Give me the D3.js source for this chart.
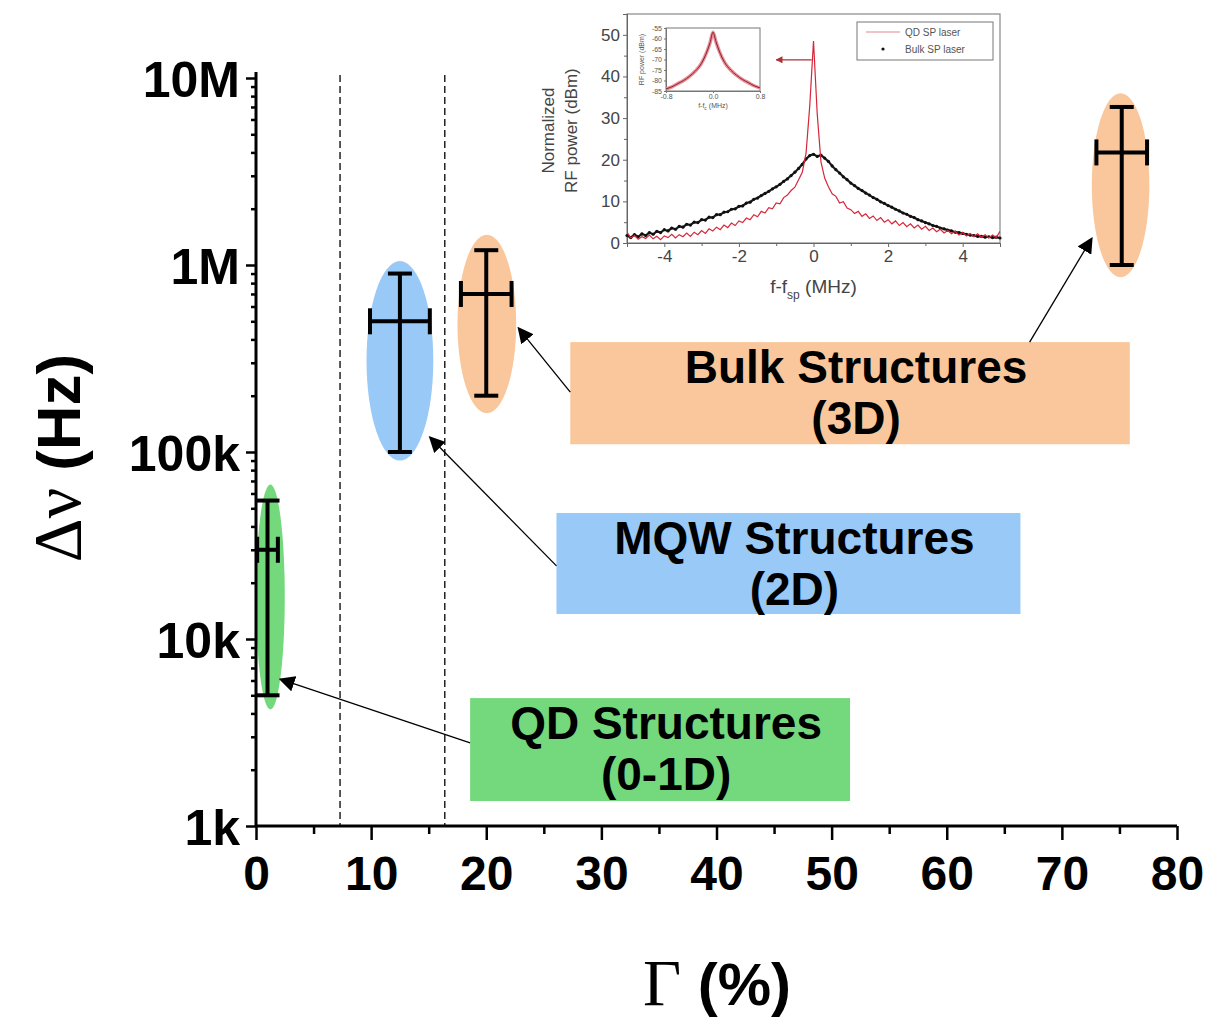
<!DOCTYPE html>
<html>
<head>
<meta charset="utf-8">
<script src="https://cdn.jsdelivr.net/npm/d3@7"></script>
<style>
  body { margin: 0; background: #fff; }
  svg { display: block; }
</style>
</head>
<body>
<div id="chart"></div>
<script>
// ---- main plot data ----
const structures = ["QD", "MQW", "Bulk", "Bulk"]
const gammaVal = [1.0, 12.5, 20.0, 75.2]
const gammaErr = [0.9, 2.6, 2.2, 2.2]
const linewidth = [30e3, 500e3, 700e3, 4e6]
const lwLow = [5e3, 100e3, 200e3, 1e6]
const lwHigh = [55e3, 0.9e6, 1.2e6, 7e6]

// shaded ellipses round each point
const ellGamma = [[0.0, 2.5], [9.6, 15.4], [17.5, 22.6], [72.6, 77.6]]
const ellLw = [[4.2e3, 67e3], [90e3, 1.05e6], [161e3, 1.45e6], [0.86e6, 8.3e6]]
const ellColor = ["#74d97c", "#99c9f7", "#f9c79b", "#f9c79b"]

const xTicks = [0, 10, 20, 30, 40, 50, 60, 70, 80]
const yTicks = [1e3, 1e4, 1e5, 1e6, 1e7]
const yTickLabels = ["1k", "10k", "100k", "1M", "10M"]
const dashedGamma = [7.3, 16.4]

// label boxes: [gamma0, gamma1], [lw0, lw1]
const boxLines = [["Bulk Structures", "(3D)"], ["MQW Structures", "(2D)"], ["QD Structures", "(0-1D)"]]
const boxGamma = [[27.3, 75.9], [26.1, 66.4], [18.6, 51.6]]
const boxLw = [[110e3, 387e3], [13.6e3, 47.2e3], [1.36e3, 4.83e3]]
const boxColor = ["#f9c79b", "#99c9f7", "#74d97c"]

// arrows: from [gamma, lw] to [gamma, lw]
const arrowFrom = [[27.3, 209e3], [67.2, 387e3], [26.1, 24.6e3], [18.6, 2.78e3]]
const arrowTo = [[22.8, 460e3], [72.6, 1.39e6], [15.1, 120e3], [2.1, 6.1e3]]

// ---- inset data ----
const insetF = d3.range(101).map(i => +(-5 + i * 0.1).toFixed(1))
const qdPower = [2.6,1.2,1.8,0.9,1.5,1.1,1.9,1.0,1.6,0.8,
  1.7,1.3,2.1,1.2,2.0,1.5,2.4,1.6,2.6,2.0,
  3.0,2.3,3.4,2.9,3.8,3.2,4.3,3.7,4.8,4.2,
  5.3,4.9,6.0,5.6,6.8,6.3,7.6,7.2,8.5,8.2,
  9.6,9.4,10.9,11.5,12.6,13.4,15.2,17.0,21.5,33.0,
  48.5,31.0,19.5,15.6,13.5,11.8,11.2,9.6,9.9,8.4,
  8.0,7.1,7.6,6.4,7.0,5.9,6.5,5.4,6.1,5.0,
  5.6,4.6,5.3,4.2,4.9,3.9,4.6,3.6,4.3,3.3,
  4.0,3.0,3.6,2.7,3.3,2.4,3.0,2.2,2.8,1.9,
  2.5,1.7,2.3,1.5,2.2,1.4,2.0,1.2,1.9,1.3,2.8]
const bulkPower = [1.8,1.3,2.0,1.5,2.2,1.8,2.5,2.1,2.8,2.5,
  3.2,2.9,3.6,3.3,4.0,3.8,4.5,4.3,5.0,4.9,
  5.6,5.5,6.2,6.1,6.8,6.8,7.4,7.5,8.1,8.2,
  8.8,8.9,9.6,9.8,10.5,10.8,11.4,11.9,12.4,13.0,
  13.5,14.1,14.8,15.4,16.2,17.0,17.9,18.9,20.2,21.0,
  21.3,20.8,21.1,20.4,19.6,18.5,17.6,16.8,15.9,15.2,
  14.4,13.8,13.1,12.6,12.0,11.5,10.9,10.5,9.9,9.5,
  9.0,8.6,8.1,7.7,7.2,6.9,6.4,6.1,5.6,5.3,
  4.9,4.6,4.2,4.0,3.6,3.4,3.1,2.9,2.6,2.5,
  2.3,2.1,1.9,1.8,1.6,1.6,1.4,1.5,1.3,1.4,1.2]

const innerF = [-0.8,-0.7,-0.6,-0.5,-0.4,-0.3,-0.2,-0.1,-0.05,0,0.05,0.1,0.2,0.3,0.4,0.5,0.6,0.7,0.8]
const innerP = [-84,-83,-81.5,-80,-78,-75.5,-72,-66,-62,-57,-61.5,-65.5,-71.5,-75,-77.5,-79.5,-81,-82.5,-83.5]

const sans = "'Liberation Sans', Arial, sans-serif"
const serif = "'Liberation Serif', 'Times New Roman', serif"

const W = 1216, H = 1021

const svg = d3.select("#chart").append("svg")
    .attr("width", W)
    .attr("height", H)

const x = d3.scaleLinear().domain([0, 80]).range([256, 1177])
const y = d3.scaleLog().domain([1e3, 1e7]).range([826, 78])

// ellipses
svg.selectAll(".ell")
  .data(structures)
  .enter().append("ellipse")
    .attr("class", "ell")
    .attr("cx", (d, i) => (x(ellGamma[i][0]) + x(ellGamma[i][1])) / 2)
    .attr("cy", (d, i) => (y(ellLw[i][0]) + y(ellLw[i][1])) / 2)
    .attr("rx", (d, i) => (x(ellGamma[i][1]) - x(ellGamma[i][0])) / 2)
    .attr("ry", (d, i) => (y(ellLw[i][0]) - y(ellLw[i][1])) / 2)
    .attr("fill", (d, i) => ellColor[i])

// dashed lines
svg.selectAll(".dash")
  .data(dashedGamma)
  .enter().append("line")
    .attr("x1", d => x(d)).attr("x2", d => x(d))
    .attr("y1", y(1e7) - 3).attr("y2", y(1e3))
    .attr("stroke", "#000")
    .attr("stroke-width", 1.3)
    .attr("stroke-dasharray", "7,4")

// label boxes
const boxes = svg.selectAll(".box")
  .data(boxLines)
  .enter().append("g")

boxes.append("rect")
    .attr("x", (d, i) => x(boxGamma[i][0]))
    .attr("y", (d, i) => y(boxLw[i][1]))
    .attr("width", (d, i) => x(boxGamma[i][1]) - x(boxGamma[i][0]))
    .attr("height", (d, i) => y(boxLw[i][0]) - y(boxLw[i][1]))
    .attr("fill", (d, i) => boxColor[i])

boxes.each(function(d, i){
    const cx = (x(boxGamma[i][0]) + x(boxGamma[i][1])) / 2 + 6
    const top = y(boxLw[i][1])
    d.forEach((t, k) => {
      d3.select(this).append("text")
        .attr("x", cx)
        .attr("y", top + 41 + k * 51)
        .attr("text-anchor", "middle")
        .attr("font-family", sans)
        .attr("font-weight", "bold")
        .attr("font-size", 46)
        .text(t)
    })
})

// arrows
svg.append("defs").append("marker")
    .attr("id", "head")
    .attr("viewBox", "0 0 10 10")
    .attr("refX", 9).attr("refY", 5)
    .attr("markerWidth", 16).attr("markerHeight", 16)
    .attr("markerUnits", "userSpaceOnUse")
    .attr("orient", "auto")
  .append("path")
    .attr("d", "M0,0 L10,5 L0,10 z")
    .attr("fill", "#000")

svg.selectAll(".arrow")
  .data(arrowFrom)
  .enter().append("line")
    .attr("x1", d => x(d[0])).attr("y1", d => y(d[1]))
    .attr("x2", (d, i) => x(arrowTo[i][0])).attr("y2", (d, i) => y(arrowTo[i][1]))
    .attr("stroke", "#000")
    .attr("stroke-width", 1.3)
    .attr("marker-end", "url(#head)")

// error bars
const bars = svg.selectAll(".err")
  .data(structures)
  .enter().append("g")
    .attr("stroke", "#000")
    .attr("stroke-width", 4)

bars.append("line")
    .attr("x1", (d, i) => x(gammaVal[i])).attr("x2", (d, i) => x(gammaVal[i]))
    .attr("y1", (d, i) => y(lwLow[i])).attr("y2", (d, i) => y(lwHigh[i]))
bars.append("line")
    .attr("x1", (d, i) => x(gammaVal[i] - gammaErr[i])).attr("x2", (d, i) => x(gammaVal[i] + gammaErr[i]))
    .attr("y1", (d, i) => y(linewidth[i])).attr("y2", (d, i) => y(linewidth[i]))
// caps
bars.selectAll(".vcap")
  .data((d, i) => [[i, lwLow[i]], [i, lwHigh[i]]])
  .enter().append("line")
    .attr("x1", d => x(gammaVal[d[0]]) - 12).attr("x2", d => x(gammaVal[d[0]]) + 12)
    .attr("y1", d => y(d[1])).attr("y2", d => y(d[1]))
bars.selectAll(".hcap")
  .data((d, i) => [[i, gammaVal[i] - gammaErr[i]], [i, gammaVal[i] + gammaErr[i]]])
  .enter().append("line")
    .attr("x1", d => x(d[1])).attr("x2", d => x(d[1]))
    .attr("y1", d => y(linewidth[d[0]]) - 13).attr("y2", d => y(linewidth[d[0]]) + 13)

// axes
const minorY = []
yTicks.slice(0, -1).forEach(t => { for (let m = 2; m < 10; m++) minorY.push(t * m) })

const yAxis = d3.axisLeft(y)
    .tickValues(yTicks)
    .tickFormat((d, i) => yTickLabels[i])
    .tickSize(10)
    .tickPadding(6)
const yMinor = d3.axisLeft(y).tickValues(minorY).tickFormat("").tickSize(5)

const xAxis = d3.axisBottom(x).tickValues(xTicks).tickSize(14).tickPadding(16)
const xMinor = d3.axisBottom(x).tickValues(d3.range(5, 80, 10)).tickFormat("").tickSize(8)

const gx = svg.append("g").attr("transform", `translate(0,${y(1e3)})`).call(xAxis)
svg.append("g").attr("transform", `translate(0,${y(1e3)})`).call(xMinor)
const gy = svg.append("g").attr("transform", `translate(${x(0)},0)`).call(yAxis)
svg.append("g").attr("transform", `translate(${x(0)},0)`).call(yMinor)

svg.selectAll(".domain").attr("stroke-width", 3).attr("d", null)
svg.selectAll(".tick line").attr("stroke-width", 2.5)
svg.append("line").attr("x1", x(0)).attr("x2", x(80)).attr("y1", y(1e3)).attr("y2", y(1e3))
    .attr("stroke", "#000").attr("stroke-width", 3)
svg.append("line").attr("x1", x(0)).attr("x2", x(0)).attr("y1", y(1e3) + 1).attr("y2", y(1e7) - 6)
    .attr("stroke", "#000").attr("stroke-width", 3)

gx.selectAll("text").attr("font-family", sans).attr("font-weight", "bold").attr("font-size", 48).attr("fill", "#000")
gy.selectAll("text").attr("font-family", sans).attr("font-weight", "bold").attr("font-size", 50).attr("fill", "#000")
  .attr("dy", "0.36em")

// axis titles
svg.append("text")
    .attr("transform", "translate(80,458) rotate(-90)")
    .attr("text-anchor", "middle")
    .call(t => {
      t.append("tspan").attr("font-family", serif).attr("font-size", 68).text("\u0394\u03bd ")
      t.append("tspan").attr("font-family", sans).attr("font-weight", "bold").attr("font-size", 62).text("(Hz)")
    })

svg.append("text")
    .attr("x", 717).attr("y", 1005)
    .attr("text-anchor", "middle")
    .call(t => {
      t.append("tspan").attr("font-family", serif).attr("font-size", 66).text("\u0393 ")
      t.append("tspan").attr("font-family", sans).attr("font-weight", "bold").attr("font-size", 60).text("(%)")
    })

// ---- inset ----
const ix = d3.scaleLinear().domain([-5, 5]).range([627, 1000])
const iy = d3.scaleLinear().domain([0, 55]).range([243, 14])
const inset = svg.append("g").attr("font-family", sans).attr("fill", "#333")

inset.append("rect")
    .attr("x", ix(-5)).attr("y", iy(55))
    .attr("width", ix(5) - ix(-5)).attr("height", iy(0) - iy(55))
    .attr("fill", "none").attr("stroke", "#888").attr("stroke-width", 1.2)

const ixAxis = d3.axisBottom(ix).tickValues([-4, -2, 0, 2, 4]).tickFormat(d => String(d)).tickSize(4).tickPadding(3)
const ixMinor = d3.axisBottom(ix).tickValues([-3, -1, 1, 3]).tickFormat("").tickSize(3)
const iyAxis = d3.axisLeft(iy).tickValues([0, 10, 20, 30, 40, 50]).tickSize(4).tickPadding(3)
const iyMinor = d3.axisLeft(iy).tickValues([5, 15, 25, 35, 45]).tickFormat("").tickSize(3)

inset.append("g").attr("transform", `translate(0,${iy(0)})`).call(ixAxis)
inset.append("g").attr("transform", `translate(0,${iy(0)})`).call(ixMinor)
inset.append("g").attr("transform", `translate(${ix(-5)},0)`).call(iyAxis)
inset.append("g").attr("transform", `translate(${ix(-5)},0)`).call(iyMinor)
inset.selectAll(".domain").attr("stroke", "#666")
inset.selectAll(".tick line").attr("stroke", "#666")
inset.selectAll(".tick text").attr("font-size", 17).attr("fill", "#444").attr("font-family", sans)

const clip = svg.append("clipPath").attr("id", "iclip")
clip.append("rect").attr("x", ix(-5)).attr("y", iy(55)).attr("width", ix(5) - ix(-5)).attr("height", iy(0) - iy(55))

const iline = d3.line().x((d, i) => ix(insetF[i])).y(d => iy(d))

inset.append("path")
    .datum(bulkPower)
    .attr("clip-path", "url(#iclip)")
    .attr("fill", "none")
    .attr("stroke", "#1a1a1a")
    .attr("stroke-width", 2.2)
    .attr("d", iline)
inset.selectAll(".bdot")
  .data(bulkPower)
  .enter().append("circle")
    .attr("cx", (d, i) => ix(insetF[i]))
    .attr("cy", d => iy(d))
    .attr("r", 1.6)
    .attr("fill", "#111")

inset.append("path")
    .datum(qdPower)
    .attr("clip-path", "url(#iclip)")
    .attr("fill", "none")
    .attr("stroke", "#d6263a")
    .attr("stroke-width", 1.2)
    .attr("d", iline)

// arrow pointing from the spike to inner inset
svg.append("defs").append("marker")
    .attr("id", "ihead")
    .attr("viewBox", "0 0 10 10")
    .attr("refX", 9).attr("refY", 5)
    .attr("markerWidth", 7).attr("markerHeight", 7)
    .attr("markerUnits", "userSpaceOnUse")
    .attr("orient", "auto")
  .append("path")
    .attr("d", "M0,0 L10,5 L0,10 z")
    .attr("fill", "#a33")
inset.append("line")
    .attr("x1", ix(-0.05)).attr("x2", ix(-1.0))
    .attr("y1", iy(44)).attr("y2", iy(44))
    .attr("stroke", "#a33").attr("stroke-width", 1.2)
    .attr("marker-end", "url(#ihead)")

// inset titles
inset.append("text")
    .attr("transform", `translate(${ix(-5) - 73},${iy(27)}) rotate(-90)`)
    .attr("text-anchor", "middle").attr("font-size", 17).attr("fill", "#444")
    .text("Normalized")
inset.append("text")
    .attr("transform", `translate(${ix(-5) - 50},${iy(27)}) rotate(-90)`)
    .attr("text-anchor", "middle").attr("font-size", 17).attr("fill", "#444")
    .text("RF power (dBm)")
inset.append("text")
    .attr("x", ix(0)).attr("y", 293)
    .attr("text-anchor", "middle").attr("font-size", 19).attr("fill", "#444")
    .call(t => {
      t.append("tspan").text("f-f")
      t.append("tspan").attr("font-size", 12).attr("dy", 6).text("sp")
      t.append("tspan").attr("dy", -6).text(" (MHz)")
    })

// legend
const lg = inset.append("g")
lg.append("rect").attr("x", 857).attr("y", 22).attr("width", 136).attr("height", 38)
    .attr("fill", "#fff").attr("stroke", "#777").attr("stroke-width", 1)
lg.append("line").attr("x1", 866).attr("x2", 900).attr("y1", 32).attr("y2", 32)
    .attr("stroke", "#e08a92").attr("stroke-width", 1.2)
lg.append("circle").attr("cx", 883).attr("cy", 49).attr("r", 1.6).attr("fill", "#111")
lg.append("text").attr("x", 905).attr("y", 36).attr("font-size", 10).attr("fill", "#555").text("QD SP laser")
lg.append("text").attr("x", 905).attr("y", 53).attr("font-size", 10).attr("fill", "#555").text("Bulk SP laser")

// inner inset
const jx = d3.scaleLinear().domain([-0.8, 0.8]).range([666, 760])
const jy = d3.scaleLinear().domain([-85, -55]).range([91, 28])
const inner = inset.append("g")
inner.append("rect")
    .attr("x", jx(-0.8)).attr("y", jy(-55))
    .attr("width", jx(0.8) - jx(-0.8)).attr("height", jy(-85) - jy(-55))
    .attr("fill", "#fff").attr("stroke", "#777").attr("stroke-width", 1)
inner.append("g").attr("transform", `translate(${jx(-0.8)},0)`)
    .call(d3.axisLeft(jy).tickValues([-55, -60, -65, -70, -75, -80, -85]).tickFormat(d => String(d)).tickSize(2).tickPadding(2))
inner.append("g").attr("transform", `translate(0,${jy(-85)})`)
    .call(d3.axisBottom(jx).tickValues([-0.8, 0, 0.8]).tickFormat(d => d.toFixed(1)).tickSize(2).tickPadding(1))
inner.selectAll(".domain").attr("stroke", "#777")
inner.selectAll(".tick text").attr("font-size", 7).attr("fill", "#555").attr("font-family", sans)
inner.selectAll(".tick line").attr("stroke", "#777")

const jline = d3.line().x((d, i) => jx(innerF[i])).y(d => jy(d)).curve(d3.curveMonotoneX)
inner.append("path").datum(innerP)
    .attr("fill", "none").attr("stroke", "#ef8a95").attr("stroke-width", 3.5).attr("d", jline)
inner.append("path").datum(innerP)
    .attr("fill", "none").attr("stroke", "#7a2a33").attr("stroke-width", 1).attr("d", jline)

inner.append("text")
    .attr("transform", `translate(${jx(-0.8) - 22},${jy(-70)}) rotate(-90)`)
    .attr("text-anchor", "middle").attr("font-size", 7).attr("fill", "#555")
    .text("RF power (dBm)")
inner.append("text")
    .attr("x", jx(0)).attr("y", 108)
    .attr("text-anchor", "middle").attr("font-size", 7).attr("fill", "#555")
    .call(t => {
      t.append("tspan").text("f-f")
      t.append("tspan").attr("font-size", 5).attr("dy", 2).text("c")
      t.append("tspan").attr("dy", -2).text(" (MHz)")
    })
</script>
</body>
</html>
